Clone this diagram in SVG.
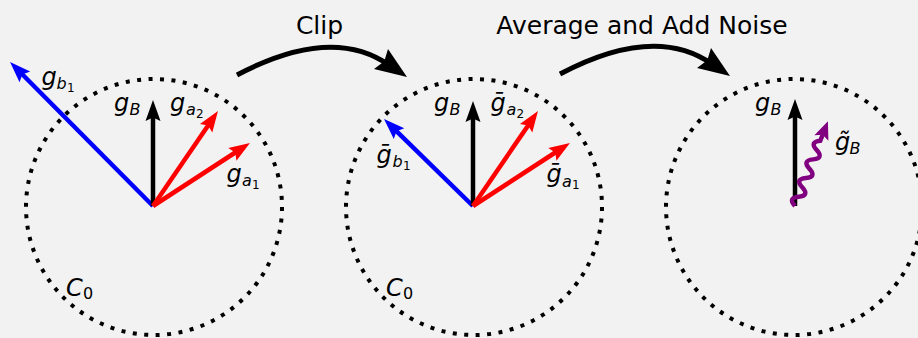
<svg xmlns="http://www.w3.org/2000/svg" width="918" height="338" viewBox="0 0 918 338">
<style>
.bg{fill:#f2f2f2}
.ring{fill:none;stroke:#000;stroke-width:4;stroke-dasharray:4 7.49}
.vec{fill:none;stroke-width:4.5;stroke-linecap:butt}
.k{stroke:#000}.r{stroke:#ff0000}.b{stroke:#0000ff}
.m{font-family:"DejaVu Sans",sans-serif;font-style:italic;fill:#000}
.d{font-family:"DejaVu Sans",sans-serif;font-style:normal;fill:#000}
.main{font-size:24px}.sub{font-size:16px}.sub2{font-size:12px}
.title{font-family:"DejaVu Sans",sans-serif;font-size:25px;fill:#000}
.conn{fill:none;stroke:#000;stroke-width:5}
</style>
<defs>
<marker id="hk" markerUnits="userSpaceOnUse" markerWidth="30" markerHeight="30" refX="0" refY="0" orient="auto" overflow="visible"><path d="M12,0 L-9,-7.5 L-5.5,0 L-9,7.5 Z" fill="#000"/></marker>
<marker id="hr" markerUnits="userSpaceOnUse" markerWidth="30" markerHeight="30" refX="0" refY="0" orient="auto" overflow="visible"><path d="M12,0 L-9,-7.5 L-5.5,0 L-9,7.5 Z" fill="#ff0000"/></marker>
<marker id="hb" markerUnits="userSpaceOnUse" markerWidth="30" markerHeight="30" refX="0" refY="0" orient="auto" overflow="visible"><path d="M12,0 L-9,-7.5 L-5.5,0 L-9,7.5 Z" fill="#0000ff"/></marker>
</defs>
<rect class="bg" x="0" y="0" width="918" height="338"/>

<g id="circle1">
<circle class="ring" cx="154" cy="207" r="128"/>
<line class="vec b" x1="153" y1="206" x2="18.5" y2="70.5" marker-end="url(#hb)"/>
<line class="vec k" x1="153" y1="206" x2="153" y2="112" marker-end="url(#hk)"/>
<line class="vec r" x1="153" y1="206" x2="211.2" y2="120.9" marker-end="url(#hr)"/>
<line class="vec r" x1="153" y1="206" x2="239.9" y2="149.5" marker-end="url(#hr)"/>
<text class="m main" x="41.5" y="85">g</text><text class="m sub" x="56.5" y="89">b</text><text class="d sub2" x="67" y="92">1</text>
<text class="m main" x="114" y="111">g</text><text class="m sub" x="129.5" y="114.5">B</text>
<text class="m main" x="170" y="111">g</text><text class="m sub" x="186" y="114.5">a</text><text class="d sub2" x="196" y="117.5">2</text>
<text class="m main" x="226.5" y="181.5">g</text><text class="m sub" x="242" y="186">a</text><text class="d sub2" x="252" y="188.5">1</text>
<text class="m main" x="66" y="296">C</text><text class="d" style="font-size:16px" x="83" y="299">0</text>
</g>

<g id="circle2">
<circle class="ring" cx="474" cy="207" r="128"/>
<line class="vec b" x1="473" y1="206" x2="392.6" y2="127.4" marker-end="url(#hb)"/>
<line class="vec k" x1="473" y1="206" x2="473" y2="113" marker-end="url(#hk)"/>
<line class="vec r" x1="473" y1="206" x2="531.2" y2="120.9" marker-end="url(#hr)"/>
<line class="vec r" x1="473" y1="206" x2="559.9" y2="149.5" marker-end="url(#hr)"/>
<text class="m main" x="376.5" y="163">ḡ</text><text class="m sub" x="392.5" y="167">b</text><text class="d sub2" x="403" y="170">1</text>
<text class="m main" x="434" y="111">g</text><text class="m sub" x="449.5" y="114.5">B</text>
<text class="m main" x="490.5" y="111">ḡ</text><text class="m sub" x="506.5" y="114.5">a</text><text class="d sub2" x="516.5" y="117.5">2</text>
<text class="m main" x="546.5" y="182">ḡ</text><text class="m sub" x="562" y="186.5">a</text><text class="d sub2" x="572" y="189">1</text>
<text class="m main" x="386" y="296">C</text><text class="d" style="font-size:16px" x="403" y="299">0</text>
</g>

<g id="circle3">
<circle class="ring" cx="794" cy="207" r="128"/>
<line class="vec k" x1="795" y1="206" x2="795" y2="111" marker-end="url(#hk)"/>
<g transform="translate(795,206) rotate(-68.8)">
<path d="M0,0 Q5,-10 10,0 Q15,10 20,0 Q25,-10 30,0 Q35,10 40,0 Q45,-10 50,0 Q55,10 60,0 Q65,-10 70,0 L77,0" fill="none" stroke="#800080" stroke-width="4.5"/>
<path d="M91,0 L73,-7.5 L76.5,0 L73,7.5 Z" fill="#800080"/>
</g>
<text class="m main" x="755" y="111">g</text><text class="m sub" x="770.5" y="114.5">B</text>
<text class="m main" x="835" y="150">g̃</text><text class="m sub" x="849.5" y="153.5">B</text>
</g>

<g id="connectors">
<g id="clip-arrow">
<path class="conn" d="M237,75 Q331.6,25 389,65"/>
<polygon points="407,77 388,49 384.3,61.3 374,69" fill="#000"/>
<text class="title" x="319.5" y="34" text-anchor="middle">Clip</text>
</g>
<g id="noise-arrow">
<path class="conn" d="M560,74 Q654.6,24 712,64"/>
<polygon points="730,76 711,48 707.3,60.3 697,68" fill="#000"/>
<text class="title" x="642" y="34" text-anchor="middle">Average and Add Noise</text>
</g>
</g>
</svg>
